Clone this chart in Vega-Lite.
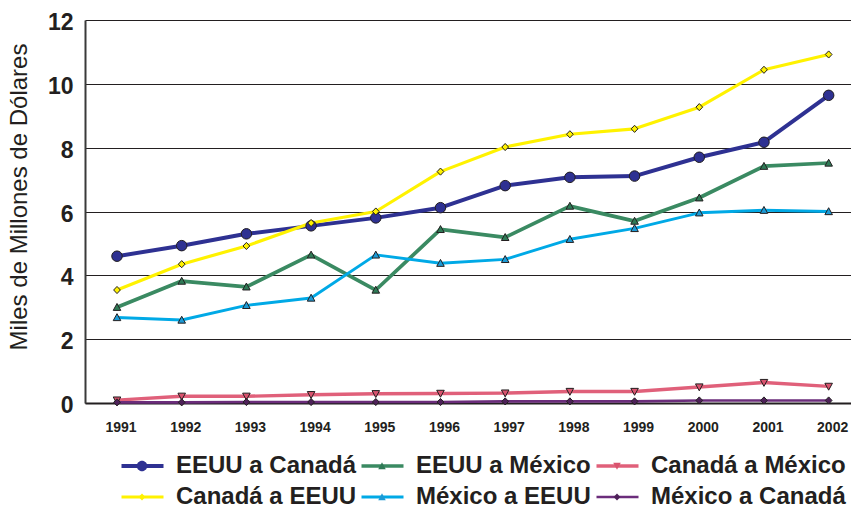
{
  "$schema": "https://vega.github.io/schema/vega-lite/v6.json",
  "width": 766,
  "height": 383,
  "autosize": {"type": "none"},
  "padding": {"left": 85, "top": 20, "right": 0, "bottom": 109},
  "background": "white",
  "config": {"view": {"stroke": null}, "font": "Liberation Sans"},
  "data": {
    "values": [
      {"anio": 1991, "serie": "EEUU a Canadá", "orden": 1, "valor": 4.6},
      {"anio": 1992, "serie": "EEUU a Canadá", "orden": 1, "valor": 4.93},
      {"anio": 1993, "serie": "EEUU a Canadá", "orden": 1, "valor": 5.3},
      {"anio": 1994, "serie": "EEUU a Canadá", "orden": 1, "valor": 5.55},
      {"anio": 1995, "serie": "EEUU a Canadá", "orden": 1, "valor": 5.8},
      {"anio": 1996, "serie": "EEUU a Canadá", "orden": 1, "valor": 6.12},
      {"anio": 1997, "serie": "EEUU a Canadá", "orden": 1, "valor": 6.81},
      {"anio": 1998, "serie": "EEUU a Canadá", "orden": 1, "valor": 7.07},
      {"anio": 1999, "serie": "EEUU a Canadá", "orden": 1, "valor": 7.11},
      {"anio": 2000, "serie": "EEUU a Canadá", "orden": 1, "valor": 7.7},
      {"anio": 2001, "serie": "EEUU a Canadá", "orden": 1, "valor": 8.17},
      {"anio": 2002, "serie": "EEUU a Canadá", "orden": 1, "valor": 9.64},
      {"anio": 1991, "serie": "EEUU a México", "orden": 2, "valor": 3.0},
      {"anio": 1992, "serie": "EEUU a México", "orden": 2, "valor": 3.82},
      {"anio": 1993, "serie": "EEUU a México", "orden": 2, "valor": 3.64},
      {"anio": 1994, "serie": "EEUU a México", "orden": 2, "valor": 4.64},
      {"anio": 1995, "serie": "EEUU a México", "orden": 2, "valor": 3.54},
      {"anio": 1996, "serie": "EEUU a México", "orden": 2, "valor": 5.44},
      {"anio": 1997, "serie": "EEUU a México", "orden": 2, "valor": 5.19},
      {"anio": 1998, "serie": "EEUU a México", "orden": 2, "valor": 6.17},
      {"anio": 1999, "serie": "EEUU a México", "orden": 2, "valor": 5.7},
      {"anio": 2000, "serie": "EEUU a México", "orden": 2, "valor": 6.43},
      {"anio": 2001, "serie": "EEUU a México", "orden": 2, "valor": 7.42},
      {"anio": 2002, "serie": "EEUU a México", "orden": 2, "valor": 7.52},
      {"anio": 1991, "serie": "Canadá a México", "orden": 3, "valor": 0.09},
      {"anio": 1992, "serie": "Canadá a México", "orden": 3, "valor": 0.21},
      {"anio": 1993, "serie": "Canadá a México", "orden": 3, "valor": 0.21},
      {"anio": 1994, "serie": "Canadá a México", "orden": 3, "valor": 0.26},
      {"anio": 1995, "serie": "Canadá a México", "orden": 3, "valor": 0.29},
      {"anio": 1996, "serie": "Canadá a México", "orden": 3, "valor": 0.3},
      {"anio": 1997, "serie": "Canadá a México", "orden": 3, "valor": 0.31},
      {"anio": 1998, "serie": "Canadá a México", "orden": 3, "valor": 0.36},
      {"anio": 1999, "serie": "Canadá a México", "orden": 3, "valor": 0.36},
      {"anio": 2000, "serie": "Canadá a México", "orden": 3, "valor": 0.5},
      {"anio": 2001, "serie": "Canadá a México", "orden": 3, "valor": 0.64},
      {"anio": 2002, "serie": "Canadá a México", "orden": 3, "valor": 0.52},
      {"anio": 1991, "serie": "Canadá a EEUU", "orden": 4, "valor": 3.54},
      {"anio": 1992, "serie": "Canadá a EEUU", "orden": 4, "valor": 4.35},
      {"anio": 1993, "serie": "Canadá a EEUU", "orden": 4, "valor": 4.92},
      {"anio": 1994, "serie": "Canadá a EEUU", "orden": 4, "valor": 5.64},
      {"anio": 1995, "serie": "Canadá a EEUU", "orden": 4, "valor": 6.0},
      {"anio": 1996, "serie": "Canadá a EEUU", "orden": 4, "valor": 7.25},
      {"anio": 1997, "serie": "Canadá a EEUU", "orden": 4, "valor": 8.02},
      {"anio": 1998, "serie": "Canadá a EEUU", "orden": 4, "valor": 8.42},
      {"anio": 1999, "serie": "Canadá a EEUU", "orden": 4, "valor": 8.59},
      {"anio": 2000, "serie": "Canadá a EEUU", "orden": 4, "valor": 9.27},
      {"anio": 2001, "serie": "Canadá a EEUU", "orden": 4, "valor": 10.44},
      {"anio": 2002, "serie": "Canadá a EEUU", "orden": 4, "valor": 10.92},
      {"anio": 1991, "serie": "México a EEUU", "orden": 5, "valor": 2.68},
      {"anio": 1992, "serie": "México a EEUU", "orden": 5, "valor": 2.6},
      {"anio": 1993, "serie": "México a EEUU", "orden": 5, "valor": 3.06},
      {"anio": 1994, "serie": "México a EEUU", "orden": 5, "valor": 3.29},
      {"anio": 1995, "serie": "México a EEUU", "orden": 5, "valor": 4.64},
      {"anio": 1996, "serie": "México a EEUU", "orden": 5, "valor": 4.38},
      {"anio": 1997, "serie": "México a EEUU", "orden": 5, "valor": 4.5},
      {"anio": 1998, "serie": "México a EEUU", "orden": 5, "valor": 5.13},
      {"anio": 1999, "serie": "México a EEUU", "orden": 5, "valor": 5.47},
      {"anio": 2000, "serie": "México a EEUU", "orden": 5, "valor": 5.96},
      {"anio": 2001, "serie": "México a EEUU", "orden": 5, "valor": 6.04},
      {"anio": 2002, "serie": "México a EEUU", "orden": 5, "valor": 6.0},
      {"anio": 1991, "serie": "México a Canadá", "orden": 6, "valor": 0.02},
      {"anio": 1992, "serie": "México a Canadá", "orden": 6, "valor": 0.02},
      {"anio": 1993, "serie": "México a Canadá", "orden": 6, "valor": 0.03},
      {"anio": 1994, "serie": "México a Canadá", "orden": 6, "valor": 0.03},
      {"anio": 1995, "serie": "México a Canadá", "orden": 6, "valor": 0.03},
      {"anio": 1996, "serie": "México a Canadá", "orden": 6, "valor": 0.03},
      {"anio": 1997, "serie": "México a Canadá", "orden": 6, "valor": 0.05},
      {"anio": 1998, "serie": "México a Canadá", "orden": 6, "valor": 0.05},
      {"anio": 1999, "serie": "México a Canadá", "orden": 6, "valor": 0.05},
      {"anio": 2000, "serie": "México a Canadá", "orden": 6, "valor": 0.08},
      {"anio": 2001, "serie": "México a Canadá", "orden": 6, "valor": 0.08},
      {"anio": 2002, "serie": "México a Canadá", "orden": 6, "valor": 0.08}
    ]
  },
  "encoding": {
    "x": {
      "field": "anio",
      "type": "ordinal",
      "scale": {"type": "point", "padding": 0.42, "align": 0.589},
      "axis": {
        "title": null,
        "labelAngle": 0,
        "domain": true,
        "domainColor": "#231f20",
        "domainWidth": 2,
        "ticks": false,
        "grid": false,
        "labelFont": "Liberation Sans",
        "labelFontSize": 14,
        "labelFontWeight": "bold",
        "labelColor": "#231f20",
        "labelBaseline": "middle",
        "labelPadding": 24,
        "labelOffset": 3.5
      }
    },
    "y": {
      "field": "valor",
      "type": "quantitative",
      "scale": {"domain": [0, 12], "nice": false, "zero": true},
      "axis": {
        "values": [0, 2, 4, 6, 8, 10, 12],
        "grid": true,
        "gridColor": "#231f20",
        "gridWidth": 1.2,
        "gridOpacity": 1,
        "domain": true,
        "domainColor": "#3a3a3a",
        "domainWidth": 2,
        "ticks": false,
        "labelFont": "Liberation Sans",
        "labelFontSize": 23,
        "labelFontWeight": "bold",
        "labelColor": "#231f20",
        "labelPadding": 12,
        "labelOffset": 2.5,
        "labelFlush": false,
        "labelOverlap": false,
        "title": "Miles de Millones de Dólares",
        "titleFont": "Liberation Sans",
        "titleFontSize": 24,
        "titleFontWeight": "normal",
        "titleColor": "#231f20",
        "titleAngle": -90,
        "titleX": -65.5,
        "titleY": 176.5,
        "titleAlign": "center",
        "titleBaseline": "middle"
      }
    }
  },
  "layer": [
    {
      "mark": {"type": "line", "strokeJoin": "round"},
      "encoding": {
        "color": {
          "field": "serie",
          "type": "nominal",
          "scale": {
            "domain": ["EEUU a Canadá", "EEUU a México", "Canadá a México", "Canadá a EEUU", "México a EEUU", "México a Canadá"],
            "range": ["#2e3192", "#3a8a62", "#e0607a", "#fff200", "#00a9e6", "#6b2d7b"]
          },
          "legend": {
            "title": null,
            "orient": "none",
            "legendX": 34.5,
            "legendY": 430.5,
            "direction": "horizontal",
            "columns": 3,
            "padding": 0,
            "symbolType": "stroke",
            "symbolSize": 1764,
            "symbolStrokeWidth": 3,
            "labelFont": "Liberation Sans",
            "labelFontSize": 24,
            "labelFontWeight": "bold",
            "labelColor": "#231f20",
            "labelOffset": 10.5,
            "labelLimit": 400,
            "clipHeight": 31,
            "rowPadding": 0,
            "columnPadding": 3
          }
        },
        "strokeWidth": {
          "field": "serie",
          "type": "nominal",
          "scale": {
            "domain": ["EEUU a Canadá", "EEUU a México", "Canadá a México", "Canadá a EEUU", "México a EEUU", "México a Canadá"],
            "range": [4, 2.6, 2.6, 2.4, 2.6, 3]
          },
          "legend": null
        }
      }
    },
    {
      "mark": {"type": "point", "filled": true, "size": 1764, "stroke": "#231f20", "strokeWidth": 1, "opacity": 1},
      "encoding": {
        "fill": {
          "field": "serie",
          "type": "nominal",
          "sort": {"field": "orden", "op": "min"},
          "scale": {"range": ["#2e3192", "#2f7a56", "#d9536e", "#fff200", "#1c9ad6", "#4e2159"]},
          "legend": {
            "title": null,
            "orient": "none",
            "legendX": 34.5,
            "legendY": 430.5,
            "direction": "horizontal",
            "columns": 3,
            "padding": 0,
            "symbolSize": 1764,
            "symbolStrokeColor": "#231f20",
            "symbolStrokeWidth": 1,
            "symbolOffset": 1,
            "labelFont": "Liberation Sans",
            "labelFontSize": 24,
            "labelFontWeight": "bold",
            "labelColor": "rgba(0,0,0,0)",
            "labelOffset": 12.5,
            "labelLimit": 400,
            "clipHeight": 31,
            "rowPadding": 0,
            "columnPadding": 3
          }
        },
        "shape": {
          "field": "serie",
          "type": "nominal",
          "sort": {"field": "orden", "op": "min"},
          "scale": {"range": [
            "M-0.25,0A0.25,0.25,0,1,1,0.25,0A0.25,0.25,0,1,1,-0.25,0Z",
            "M0,-0.18L0.18,0.15L-0.18,0.15Z",
            "M0,0.18L0.18,-0.15L-0.18,-0.15Z",
            "M0,-0.17L0.16,0L0,0.17L-0.16,0Z",
            "M0,-0.18L0.18,0.15L-0.18,0.15Z",
            "M0,-0.17L0.16,0L0,0.17L-0.16,0Z"
          ]},
          "legend": {
            "title": null,
            "orient": "none",
            "legendX": 34.5,
            "legendY": 430.5,
            "direction": "horizontal",
            "columns": 3,
            "padding": 0,
            "symbolSize": 1764,
            "symbolStrokeColor": "#231f20",
            "symbolStrokeWidth": 1,
            "symbolOffset": 1,
            "labelFont": "Liberation Sans",
            "labelFontSize": 24,
            "labelFontWeight": "bold",
            "labelColor": "rgba(0,0,0,0)",
            "labelOffset": 12.5,
            "labelLimit": 400,
            "clipHeight": 31,
            "rowPadding": 0,
            "columnPadding": 3
          }
        }
      }
    }
  ]
}
